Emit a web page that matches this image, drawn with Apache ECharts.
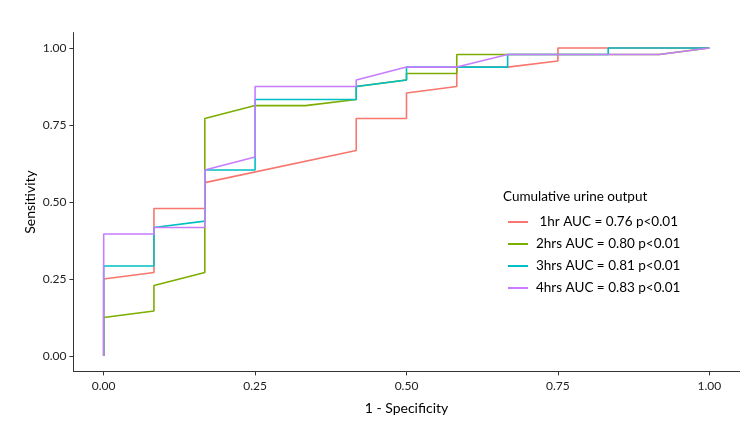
<!DOCTYPE html>
<html>
<head>
<meta charset="utf-8">
<script src="https://cdn.jsdelivr.net/npm/echarts@6/dist/echarts.min.js"></script>
<style>
  html, body { margin: 0; padding: 0; background: #fff; }
  #main { width: 750px; height: 426px; }
</style>
</head>
<body>
<div id="main"></div>
<script>
// ROC points (1 - specificity, sensitivity)
var names = [' 1hr  AUC = 0.76  p<0.01', '2hrs  AUC = 0.80  p<0.01', '3hrs  AUC = 0.81  p<0.01', '4hrs  AUC = 0.83  p<0.01'];
var colors = ['#F8766D', '#7CAE00', '#00BFC4', '#C77CFF'];

var fpr1 = [0, 0, 0.083, 0.083, 0.167, 0.167, 0.417, 0.417, 0.5, 0.5, 0.583, 0.583, 0.667, 0.75, 0.75, 1];
var tpr1 = [0, 0.25, 0.271, 0.479, 0.479, 0.563, 0.667, 0.771, 0.771, 0.854, 0.875, 0.938, 0.938, 0.958, 1, 1];

var fpr2 = [0, 0, 0.083, 0.083, 0.167, 0.167, 0.25, 0.333, 0.417, 0.417, 0.5, 0.5, 0.583, 0.583, 0.667, 0.917, 1];
var tpr2 = [0, 0.125, 0.146, 0.229, 0.271, 0.771, 0.813, 0.813, 0.833, 0.875, 0.896, 0.917, 0.917, 0.979, 0.979, 0.979, 1];

var fpr3 = [0, 0, 0.083, 0.083, 0.167, 0.167, 0.25, 0.25, 0.417, 0.417, 0.5, 0.5, 0.667, 0.667, 0.833, 0.833, 1];
var tpr3 = [0, 0.292, 0.292, 0.417, 0.438, 0.604, 0.604, 0.833, 0.833, 0.875, 0.896, 0.938, 0.938, 0.979, 0.979, 1, 1];

var fpr4 = [0, 0, 0.083, 0.083, 0.167, 0.167, 0.25, 0.25, 0.417, 0.417, 0.5, 0.583, 0.667, 0.917, 1];
var tpr4 = [0, 0.396, 0.396, 0.417, 0.417, 0.604, 0.646, 0.875, 0.875, 0.896, 0.938, 0.938, 0.979, 0.979, 1];

var tickValues = [0, 0.25, 0.5, 0.75, 1];

var fprs = [fpr1, fpr2, fpr3, fpr4];
var tprs = [tpr1, tpr2, tpr3, tpr4];

var FONT = 'Lato, "Open Sans", sans-serif';

function axisCommon(name) {
    return {
        type: 'value',
        min: -0.05,
        max: 1.05,
        name: name,
        nameLocation: 'middle',
        nameMoveOverlap: false,
        nameTextStyle: { fontFamily: FONT, fontSize: 14, color: '#000' },
        splitLine: { show: false },
        axisLine: { show: true, onZero: false, lineStyle: { color: '#333', width: 1 } },
        axisTick: { show: true, length: 4, lineStyle: { color: '#333' }, customValues: tickValues },
        axisLabel: {
            fontFamily: FONT, fontSize: 12, color: '#222',
            customValues: tickValues,
            formatter: function (v) { return v.toFixed(2); }
        }
    };
}

var myChart = echarts.init(document.getElementById('main'), null, { renderer: 'canvas' });

var xAxis = axisCommon('1 - Specificity');
xAxis.nameGap = 30;
xAxis.axisLabel.margin = 9;
var yAxis = axisCommon('Sensitivity');
yAxis.nameGap = 36;
yAxis.axisLabel.margin = 7;

myChart.setOption({
    backgroundColor: '#fff',
    animation: false,
    title: {
        text: 'Cumulative urine output',
        left: 498,
        top: 185,
        textStyle: { fontFamily: FONT, fontSize: 13.5, fontWeight: 'normal', color: '#000' }
    },
    legend: {
        orient: 'vertical',
        left: 503,
        top: 210,
        icon: 'rect',
        itemWidth: 20,
        itemHeight: 2,
        itemGap: 8,
        textStyle: { fontFamily: FONT, fontSize: 13.5, color: '#000', padding: [0, 0, 0, 3] },
        formatter: function (n) { return n.replace(/  /g, ' '); },
        data: names
    },
    grid: {
        left: 73.4,
        right: 10.4,
        top: 32.6,
        bottom: 54.6
    },
    xAxis: xAxis,
    yAxis: yAxis,
    series: names.map(function (n, i) {
        return {
            name: n,
            type: 'line',
            showSymbol: false,
            symbol: 'none',
            color: colors[i],
            lineStyle: { width: 1.6, color: colors[i] },
            data: fprs[i].map(function (x, j) { return [x, tprs[i][j]]; })
        };
    })
});
</script>
</body>
</html>
